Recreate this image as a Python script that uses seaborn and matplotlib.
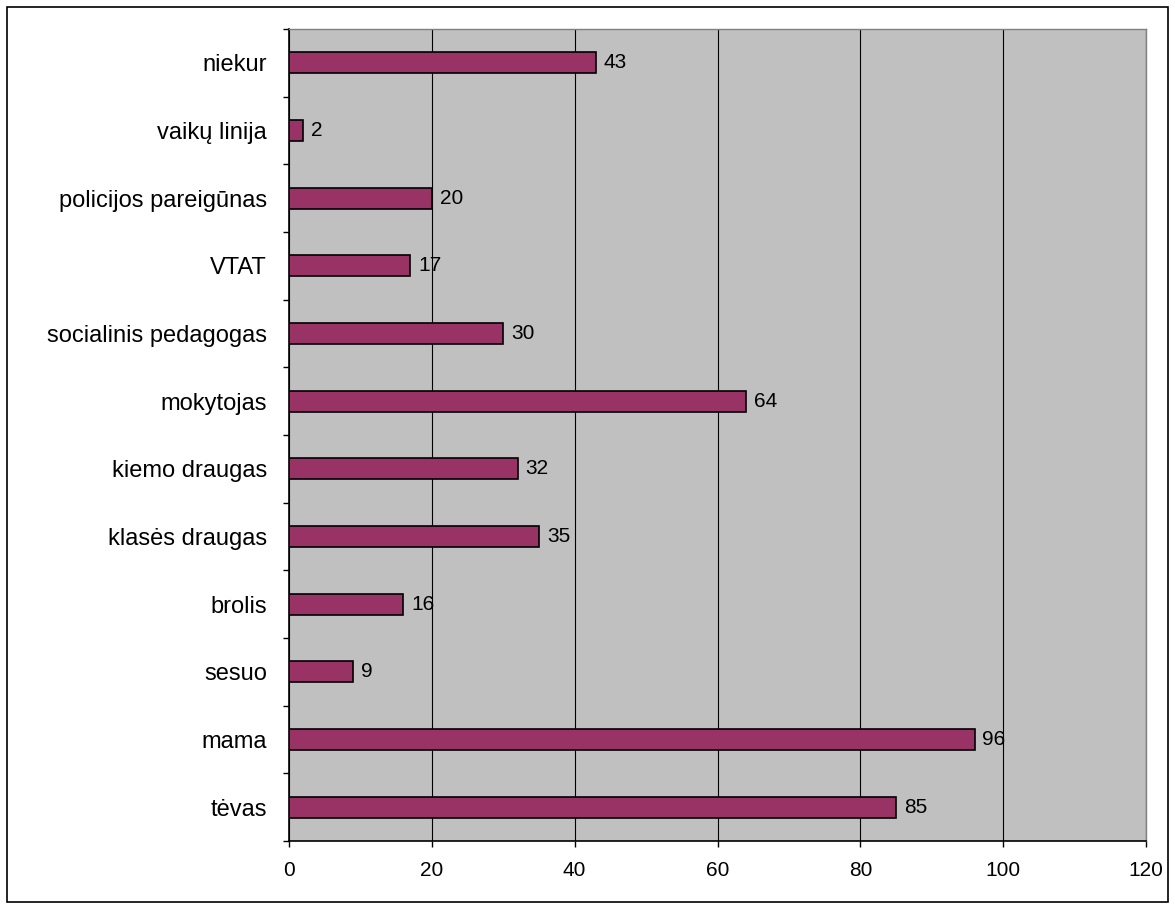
import matplotlib
matplotlib.use("Agg")
import matplotlib.pyplot as plt
import seaborn as sns
import pandas as pd
import numpy as np

categories = ["niekur", "vaikų linija", "policijos pareigūnas", "VTAT",
              "socialinis pedagogas", "mokytojas", "kiemo draugas",
              "klasės draugas", "brolis", "sesuo", "mama", "tėvas"]
values = [43, 2, 20, 17, 30, 64, 32, 35, 16, 9, 96, 85]
x_ticks = [0, 20, 40, 60, 80, 100, 120]

df = pd.DataFrame({"Kategorija": categories, "Reikšmė": values})

sns.set_theme(style="white")
plt.rcParams["font.family"] = ["Liberation Sans", "DejaVu Sans"]
plt.rcParams["text.color"] = "black"
plt.rcParams["xtick.color"] = "black"
plt.rcParams["ytick.color"] = "black"

fig = plt.figure(figsize=(11.75, 9.09), dpi=100)
ax = fig.add_axes([289 / 1175, 1 - 841 / 909, (1146 - 289) / 1175, (841 - 29) / 909])
ax.set_facecolor("#C0C0C0")

sns.barplot(data=df, y="Kategorija", x="Reikšmė", orient="h", color="#993366",
            width=0.31, edgecolor="black", linewidth=1.2, saturation=1, ax=ax, zorder=3)

# vertical grid
ax.set_xlim(0, 120)
ax.set_xticks(x_ticks)
ax.set_xticklabels([str(t) for t in x_ticks], fontsize=15)
ax.xaxis.grid(True, color="black", linewidth=0.8, zorder=1)
ax.set_axisbelow(True)

ax.set_ylim(len(categories) - 0.5, -0.5)
ax.set_yticks(range(len(categories)))
ax.set_yticklabels(categories, fontsize=17)
ax.set_yticks(np.arange(-0.5, len(categories), 1), minor=True)
ax.tick_params(axis="y", which="major", length=0, pad=16)
ax.tick_params(axis="y", which="minor", length=4.5, width=1, color="black", left=True)
ax.tick_params(axis="x", which="major", length=4.5, width=1, color="black", bottom=True, pad=10)

ax.set_xlabel("")
ax.set_ylabel("")

for i, v in enumerate(values):
    ax.text(v + 1.1, i, str(v), va="center", ha="left", fontsize=15, color="black", zorder=4)

for side in ["left", "bottom"]:
    ax.spines[side].set_color("black")
    ax.spines[side].set_linewidth(1.2)
for side in ["top", "right"]:
    ax.spines[side].set_color("#808080")
    ax.spines[side].set_linewidth(1)

# outer border
fig.patches.append(plt.Rectangle((7 / 1175, 1 - 902 / 909), 1161 / 1175, 895 / 909,
                                 transform=fig.transFigure, fill=False,
                                 edgecolor="black", linewidth=1.2))

fig.savefig("out.png", dpi=100, facecolor="white")
plt.close(fig)
